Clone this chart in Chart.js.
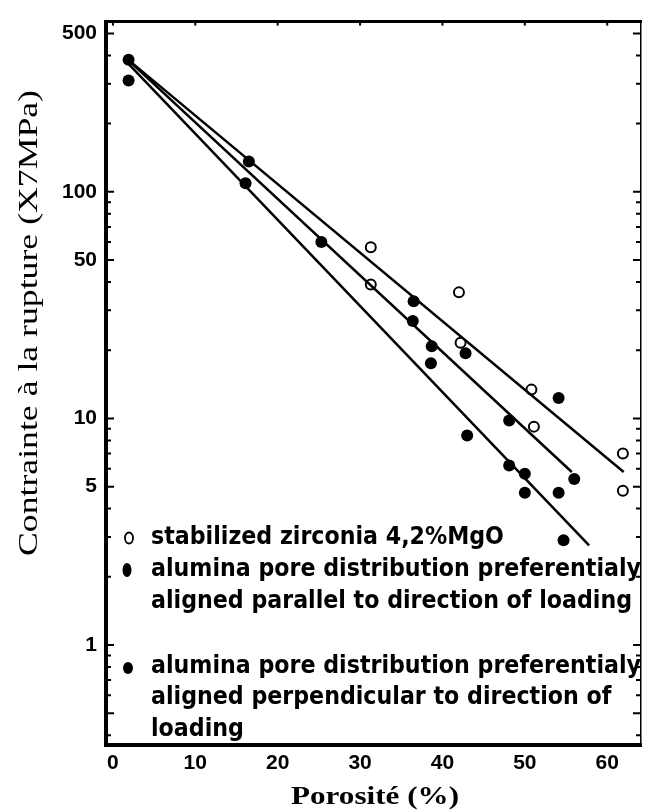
<!DOCTYPE html>
<html>
<head>
<meta charset="utf-8">
<script src="https://cdn.jsdelivr.net/npm/chart.js@4.4.1/dist/chart.umd.min.js"></script>
<style>
  html, body { margin: 0; padding: 0; background: #fff; }
  #wrap { width: 648px; height: 812px; }
</style>
</head>
<body>
<div id="wrap"><canvas id="myChart" width="648" height="812"></canvas></div>
<script>
// values
const porosityZr = [31.3, 31.3, 42.0, 42.2, 50.8, 51.1, 61.9, 61.9];
const strengthZr = [57, 39, 36, 21.6, 13.4, 9.2, 7.0, 4.8];
const porosityPar = [1.9, 16.5, 25.3, 36.5, 36.4, 38.7, 42.8, 48.1, 54.1, 56.0];
const strengthPar = [383, 136, 60, 32.9, 26.9, 20.8, 19.4, 9.8, 12.3, 5.4];
const porosityPerp = [1.9, 16.1, 38.6, 43.0, 48.1, 50.0, 50.0, 54.1, 54.7];
const strengthPerp = [310, 109, 17.5, 8.4, 6.2, 5.7, 4.7, 4.7, 2.9];

// fitted lines (end points)
const fitZrX = [1.4, 62.0];
const fitZrY = [395, 5.8];
const fitParX = [1.4, 55.7];
const fitParY = [395, 5.8];
const fitPerpX = [1.4, 57.8];
const fitPerpY = [383, 2.75];

const xTicks = [0, 10, 20, 30, 40, 50, 60];
const yTicks = [1, 5, 10, 50, 100, 500];

const legendLines = [
  ['open', 'stabilized zirconia 4,2%MgO'],
  ['oval', 'alumina pore distribution preferentialy'],
  [null, 'aligned parallel to direction of loading'],
  ['dot', 'alumina pore distribution preferentialy'],
  [null, 'aligned perpendicular to direction of'],
  [null, 'loading']
];
const legendY = [538, 570, 602, 667, 698, 730];

const toPoints = (xs, ys) => xs.map((x, i) => ({ x: x, y: ys[i] }));

const lineSet = (xs, ys) => ({
  type: 'line',
  data: toPoints(xs, ys),
  borderColor: '#000',
  borderWidth: 2.5,
  pointRadius: 0,
  fill: false
});

const drawExtras = {
  id: 'drawExtras',
  afterDraw(chart) {
    const ctx = chart.ctx;
    const area = chart.chartArea;
    const xs = chart.scales.x;
    const ys = chart.scales.y;
    ctx.save();
    ctx.strokeStyle = '#000';
    ctx.fillStyle = '#000';

    // minor log ticks on left and right edges
    ctx.lineWidth = 2;
    for (let e = -1; e <= 2; e++) {
      for (let d = 1; d <= 9; d++) {
        const v = d * Math.pow(10, e);
        if (v < ys.min || v > ys.max) continue;
        const py = ys.getPixelForValue(v);
        const len = (d === 1 || d === 5) ? 8 : 5;
        ctx.beginPath();
        ctx.moveTo(area.left, py);
        ctx.lineTo(area.left + len, py);
        ctx.moveTo(area.right, py);
        ctx.lineTo(area.right - len, py);
        ctx.stroke();
      }
    }
    // small ticks on top edge
    xTicks.forEach((v) => {
      const px = xs.getPixelForValue(v);
      ctx.beginPath();
      ctx.moveTo(px, area.top);
      ctx.lineTo(px, area.top + 4);
      ctx.stroke();
    });

    // legend
    ctx.font = 'bold 24px "Liberation Sans Narrow", "Arial Narrow", "DejaVu Sans Condensed", sans-serif';
    const longest = ctx.measureText('alumina pore distribution preferentialy').width;
    const sx = 490 / longest;
    ctx.textBaseline = 'middle';
    ctx.textAlign = 'left';
    legendLines.forEach((item, i) => {
      const y = legendY[i];
      const mark = item[0];
      if (mark === 'open') {
        ctx.lineWidth = 1.8;
        ctx.fillStyle = '#fff';
        ctx.beginPath();
        ctx.ellipse(129, y, 4, 5.5, 0, 0, Math.PI * 2);
        ctx.fill();
        ctx.stroke();
      } else if (mark === 'oval') {
        ctx.fillStyle = '#000';
        ctx.beginPath();
        ctx.ellipse(127, y, 4.5, 7, 0, 0, Math.PI * 2);
        ctx.fill();
      } else if (mark === 'dot') {
        ctx.fillStyle = '#000';
        ctx.beginPath();
        ctx.ellipse(128, y + 1, 5, 6, 0, 0, Math.PI * 2);
        ctx.fill();
      }
      ctx.fillStyle = '#000';
      ctx.save();
      ctx.translate(151, y);
      ctx.scale(sx, 1);
      ctx.fillText(item[1], 0, 0);
      ctx.restore();
    });

    // axis titles
    ctx.font = '28px "Liberation Serif", "Times New Roman", serif';
    const yTitle = 'Contrainte à la rupture (X7MPa)';
    const yw = ctx.measureText(yTitle).width;
    ctx.save();
    ctx.translate(30, 323);
    ctx.rotate(-Math.PI / 2);
    ctx.scale(466 / yw, 1);
    ctx.textAlign = 'center';
    ctx.textBaseline = 'middle';
    ctx.fillText(yTitle, 0, 0);
    ctx.restore();

    ctx.font = 'bold 26px "Liberation Serif", "Times New Roman", serif';
    const xTitle = 'Porosité (%)';
    const xw = ctx.measureText(xTitle).width;
    ctx.save();
    ctx.translate(375, 797);
    ctx.scale(168 / xw, 1);
    ctx.textAlign = 'center';
    ctx.textBaseline = 'middle';
    ctx.fillText(xTitle, 0, 0);
    ctx.restore();

    ctx.restore();
  }
};

const tickFont = { family: '"Liberation Sans", Arial, sans-serif', size: 21, weight: 'bold' };

const generateChart = () => {
  const ctx = document.getElementById('myChart').getContext('2d');
  return new Chart(ctx, {
    type: 'scatter',
    data: {
      datasets: [
        lineSet(fitZrX, fitZrY),
        lineSet(fitParX, fitParY),
        lineSet(fitPerpX, fitPerpY),
        {
          label: 'stabilized zirconia 4,2%MgO',
          data: toPoints(porosityZr, strengthZr),
          pointStyle: 'circle',
          pointRadius: 5,
          backgroundColor: '#fff',
          borderColor: '#000',
          borderWidth: 2
        },
        {
          label: 'alumina parallel',
          data: toPoints(porosityPar, strengthPar),
          pointRadius: 6,
          backgroundColor: '#000',
          borderColor: '#000',
          borderWidth: 0
        },
        {
          label: 'alumina perpendicular',
          data: toPoints(porosityPerp, strengthPerp),
          pointRadius: 6,
          backgroundColor: '#000',
          borderColor: '#000',
          borderWidth: 0
        }
      ]
    },
    options: {
      responsive: false,
      animation: false,
      layout: { padding: { top: 14, right: 3, left: 0, bottom: 0 } },
      plugins: {
        legend: { display: false },
        tooltip: { enabled: false }
      },
      scales: {
        x: {
          type: 'linear',
          position: 'bottom',
          min: -0.84,
          max: 64.1,
          afterBuildTicks: (scale) => { scale.ticks = xTicks.map((v) => ({ value: v })); },
          afterFit: (scale) => { scale.height = 67; },
          grid: { display: false, drawTicks: false },
          border: { display: true, color: '#000', width: 4 },
          ticks: { color: '#000', font: tickFont, padding: 6, maxRotation: 0 }
        },
        x2: {
          type: 'linear',
          position: 'top',
          min: -0.84,
          max: 64.1,
          afterFit: (scale) => { scale.height = 0; },
          grid: { display: false, drawTicks: false },
          border: { display: true, color: '#000', width: 3 },
          ticks: { display: false }
        },
        y: {
          type: 'logarithmic',
          position: 'left',
          min: 0.362,
          max: 564,
          afterBuildTicks: (scale) => { scale.ticks = yTicks.map((v) => ({ value: v })); },
          afterFit: (scale) => { scale.width = 106; },
          grid: { display: false, drawTicks: false },
          border: { display: true, color: '#000', width: 4 },
          ticks: {
            color: '#000',
            font: tickFont,
            padding: 9,
            callback: (v) => String(v)
          }
        },
        y2: {
          type: 'logarithmic',
          position: 'right',
          min: 0.362,
          max: 564,
          afterFit: (scale) => { scale.width = 0; },
          grid: { display: false, drawTicks: false },
          border: { display: true, color: '#000', width: 1.5 },
          ticks: { display: false }
        }
      }
    },
    plugins: [drawExtras]
  });
};

generateChart();
</script>
</body>
</html>
